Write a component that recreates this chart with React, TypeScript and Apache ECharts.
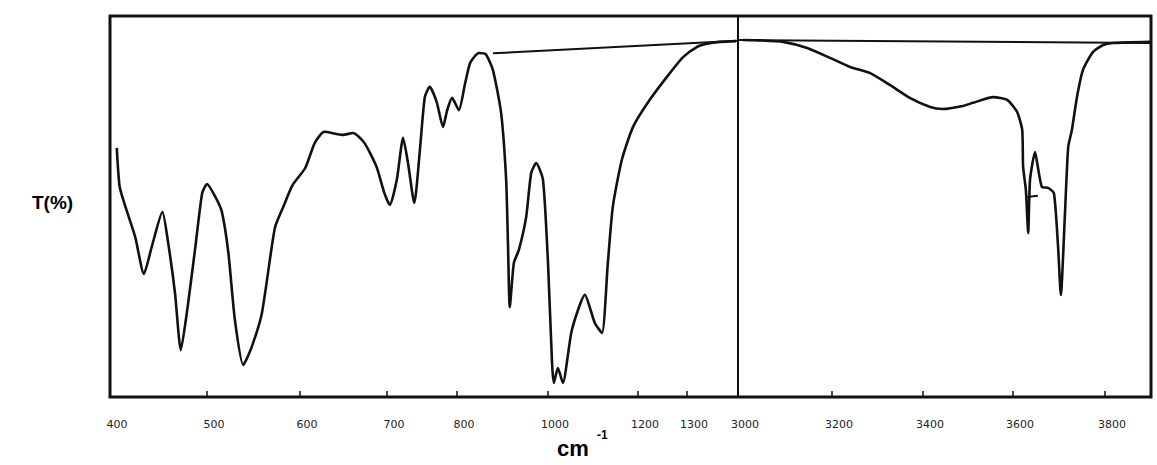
import React, { useEffect, useRef } from "react";
import * as echarts from "echarts";

// Chart-paper calibration: wavenumber (cm-1) against distance along the paper.
// The paper has two ranges (400-1400 and 3000-3900) butted together at the divider.
const scaleWavenumbers = [400, 500, 600, 700, 800, 1000, 1200, 1300, 1400, 3000, 3200, 3400, 3600, 3800, 3900];
const scaleDivisions = [0, 97, 190, 277, 347, 438, 528, 577, 628, 628, 722, 813, 903, 995, 1041];

// Printed tick labels along the bottom edge.
const tickLabels = [400, 500, 600, 700, 800, 1000, 1200, 1300, 3000, 3200, 3400, 3600, 3800];

// Low-wavenumber range: [wavenumber cm-1, transmittance %]
const lowRange: number[][] = [
  [407, 65.4], [410, 55.1], [417, 49.1], [426, 42.0], [435, 32.3], [443, 39.4],
  [454, 48.6], [460, 40.4], [467, 27.3], [473, 12.3], [480, 23.6], [488, 39.4],
  [495, 53.5], [500, 55.9], [509, 52.5], [516, 48.6], [523, 37.8], [530, 20.2],
  [539, 8.4], [548, 13.1], [559, 22.0], [573, 44.4], [582, 49.9], [592, 55.6],
  [606, 60.1], [617, 66.7], [628, 69.6], [649, 68.8], [661, 69.3], [674, 66.7],
  [688, 60.4], [697, 53.5], [704, 50.4], [714, 57.0], [723, 68.0], [730, 61.4],
  [739, 50.9], [747, 64.8], [754, 78.7], [761, 81.4], [771, 77.4], [780, 70.9],
  [786, 75.3], [793, 78.5], [804, 75.3], [818, 82.4], [829, 87.7], [848, 90.3],
  [863, 90.0], [879, 85.8], [897, 74.5], [908, 57.0], [912, 40.4], [916, 23.6],
  [925, 35.2], [936, 38.6], [952, 47.2], [963, 58.8], [974, 61.4], [989, 57.0],
  [1000, 35.2], [1009, 8.9], [1013, 3.7], [1022, 7.6], [1033, 3.7], [1053, 17.6],
  [1082, 26.8], [1104, 19.4], [1120, 16.8], [1133, 35.2], [1144, 49.9], [1164, 62.2],
  [1189, 70.9], [1224, 78.0], [1265, 85.0], [1292, 89.2], [1320, 91.9], [1339, 92.7],
  [1365, 93.2], [1396, 93.4],
];

// High-wavenumber range (OH stretching region)
const highRange: number[][] = [
  [3011, 93.7], [3047, 93.6], [3096, 93.2], [3147, 91.6], [3196, 89.0], [3240, 86.6],
  [3284, 85.0], [3327, 81.9], [3371, 78.5], [3416, 76.1], [3444, 75.6], [3489, 76.4],
  [3511, 77.2], [3556, 78.7], [3587, 78.0], [3609, 74.8], [3620, 70.1], [3622, 60.4],
  [3628, 54.3], [3633, 43.0], [3637, 57.0], [3648, 64.3], [3654, 60.4], [3663, 55.1],
  [3676, 54.9], [3689, 53.5], [3698, 39.4], [3704, 26.8], [3713, 48.3], [3720, 65.6],
  [3728, 70.1], [3739, 78.7], [3752, 85.8], [3774, 90.6], [3796, 92.4], [3817, 92.9],
  [3898, 93.2],
];

// Hand-ruled baselines drawn across each range
const lowBaseline: number[][] = [[879, 90.2], [1400, 93.5]];
const highBaseline: number[][] = [[3000, 93.7], [3900, 92.9]];
// Short pen stroke across the 3630 band
const penMark: number[][] = [[3630, 52.5], [3654, 52.8]];

function toPaper(wn: number): number {
  for (let i = 0; i < scaleWavenumbers.length - 1; i++) {
    const a = scaleWavenumbers[i];
    const b = scaleWavenumbers[i + 1];
    if (wn >= a && wn <= b) {
      const t = (wn - a) / (b - a);
      return scaleDivisions[i] + t * (scaleDivisions[i + 1] - scaleDivisions[i]);
    }
  }
  return wn < scaleWavenumbers[0] ? scaleDivisions[0] : scaleDivisions[scaleDivisions.length - 1];
}

const onPaper = (pts: number[][]) => pts.map(([wn, t]) => [toPaper(wn), t]);

export default function App() {
  const ref = useRef<HTMLDivElement>(null);

  useEffect(() => {
    if (!ref.current) return;
    const chart = echarts.init(ref.current, undefined, { renderer: "svg" });
    const tickOffsets = tickLabels.map(toPaper);
    const labelFor = (v: number) => {
      const i = tickOffsets.findIndex((o) => Math.abs(o - v) < 0.01);
      return i >= 0 ? String(tickLabels[i]) : "";
    };
    const ink = "#111";
    const paperMax = scaleDivisions[scaleDivisions.length - 1];

    chart.setOption({
      animation: false,
      backgroundColor: "#fff",
      grid: {
        left: 110,
        right: 6,
        top: 16,
        bottom: 68,
        show: true,
        borderColor: ink,
        borderWidth: 3,
      },
      xAxis: {
        type: "value",
        min: 0,
        max: paperMax,
        axisLine: { show: false },
        splitLine: { show: false },
        axisTick: {
          show: true,
          inside: true,
          length: 6,
          customValues: tickOffsets,
          lineStyle: { color: ink, width: 1.5 },
        },
        axisLabel: {
          customValues: tickOffsets,
          formatter: (v: number) => labelFor(v),
          margin: 22,
          padding: [0, 0, 0, 14],
          fontSize: 11,
          color: "#222",
          fontFamily: "DejaVu Sans, sans-serif",
        },
      },
      yAxis: { type: "value", min: 0, max: 100, show: false },
      series: [
        {
          name: "400-1400",
          type: "line",
          data: onPaper(lowRange),
          showSymbol: false,
          smooth: 0.2,
          lineStyle: { color: ink, width: 2.6 },
          markLine: {
            silent: true,
            symbol: "none",
            label: { show: false },
            lineStyle: { color: ink, width: 2, type: "solid" },
            data: [{ xAxis: toPaper(3000) }],
          },
        },
        {
          name: "3000-3900",
          type: "line",
          data: onPaper(highRange),
          showSymbol: false,
          smooth: 0.2,
          lineStyle: { color: ink, width: 2.6 },
        },
        {
          name: "baseline low",
          type: "line",
          data: onPaper(lowBaseline),
          showSymbol: false,
          lineStyle: { color: ink, width: 2 },
        },
        {
          name: "baseline high",
          type: "line",
          data: onPaper(highBaseline),
          showSymbol: false,
          lineStyle: { color: ink, width: 2 },
        },
        {
          name: "pen mark",
          type: "line",
          data: onPaper(penMark),
          showSymbol: false,
          lineStyle: { color: ink, width: 2 },
        },
      ],
      graphic: [
        {
          type: "text",
          left: 32,
          top: 193,
          style: {
            text: "T(%)",
            font: 'bold 19px "Liberation Sans", Arial, sans-serif',
            fill: "#000",
          },
        },
        {
          type: "text",
          left: 557,
          top: 437,
          style: {
            text: "cm",
            font: 'bold 22px "Liberation Sans", Arial, sans-serif',
            fill: "#000",
          },
        },
        {
          type: "text",
          left: 597,
          top: 429,
          style: {
            text: "-1",
            font: 'bold 12px "Liberation Sans", Arial, sans-serif',
            fill: "#000",
          },
        },
      ],
    });

    return () => chart.dispose();
  }, []);

  return (
    <div
      ref={ref}
      style={{ position: "absolute", left: 0, top: 0, width: 1157, height: 465, background: "#fff" }}
    />
  );
}
